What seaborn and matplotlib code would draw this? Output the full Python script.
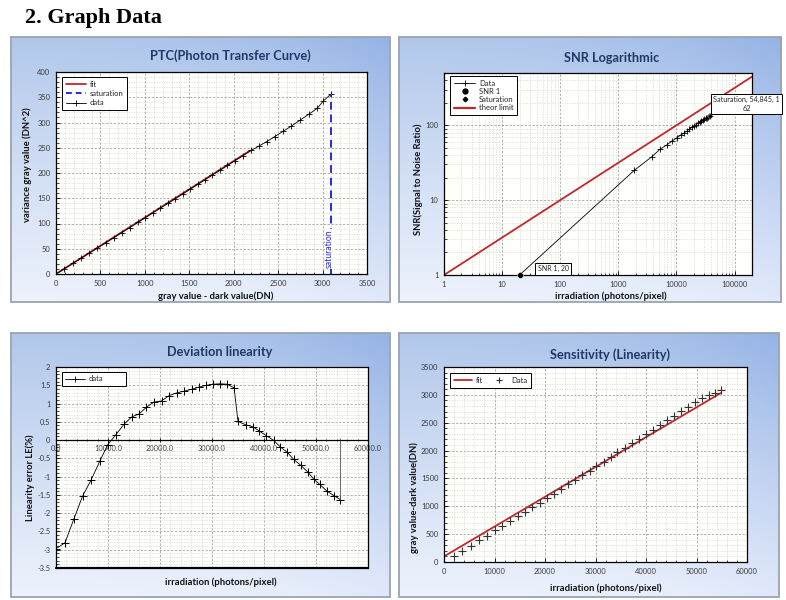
import numpy as np
import matplotlib
matplotlib.use("Agg")
import matplotlib.pyplot as plt
import seaborn as sns
from matplotlib.ticker import MultipleLocator, FixedLocator, FixedFormatter, LogLocator, NullFormatter
from matplotlib.patches import Rectangle
from matplotlib.lines import Line2D

# ---------------- data ----------------
# PTC (Photon Transfer Curve)
ptc_gray = [0, 90, 190, 280, 370, 460, 560, 650, 740, 830, 920, 1000, 1090, 1170, 1260, 1340,
            1430, 1510, 1600, 1680, 1760, 1850, 1930, 2010, 2100, 2200, 2290, 2370, 2460, 2560,
            2650, 2750, 2850, 2940, 3010, 3100]
ptc_var = [0, 10, 21, 31, 41, 51, 62, 72, 82, 92, 102, 111, 121, 130, 140, 149,
           159, 168, 178, 187, 196, 206, 215, 224, 234, 245, 254, 262, 272, 283,
           293, 305, 317, 328, 343, 357]
ptc_fit_x = [0, 2180]
ptc_fit_y = [0, 244]
ptc_xticks = [0, 500, 1000, 1500, 2000, 2500, 3000, 3500]
ptc_yticks = [0, 50, 100, 150, 200, 250, 300, 350, 400]

# SNR logarithmic
snr_irr = [20, 1880, 3770, 5250, 6900, 8500, 10200, 11800, 13500, 15200, 16800, 18500, 20200,
           21800, 23500, 25200, 26800, 28500, 30200, 31800, 33500, 35200, 36800, 38500]
snr_val = [1, 25, 38, 48, 55, 62, 68, 74, 79, 84, 89, 94, 98,
           102, 106, 110, 114, 117, 121, 124, 127, 130, 132, 134]
theor_x = [1, 200000]
theor_y = [1, 447]
snr_xticks = [1, 10, 100, 1000, 10000, 100000]
snr_yticks = [1, 10, 100]

# Deviation linearity
dev_irr = [0, 1730, 3460, 5120, 6720, 8450, 9925, 11525, 13060, 14535, 16000, 17400, 18800,
           20300, 21770, 23180, 24650, 26060, 27530, 28940, 30220, 31500, 32910, 34250, 35000,
           36500, 37900, 39060, 40470, 41880, 43160, 44440, 45720, 47070, 48470, 49560, 50710,
           52120, 53470, 54680]
dev_le = [-2.97, -2.81, -2.15, -1.53, -1.10, -0.57, -0.13, 0.15, 0.43, 0.63, 0.72, 0.90, 1.04,
          1.07, 1.22, 1.29, 1.34, 1.39, 1.45, 1.50, 1.53, 1.54, 1.53, 1.43, 0.51,
          0.42, 0.36, 0.25, 0.12, -0.01, -0.19, -0.33, -0.53, -0.69, -0.88, -1.07, -1.21,
          -1.40, -1.52, -1.63]
dev_xticks = [0, 10000, 20000, 30000, 40000, 50000, 60000]
dev_xlabels = ["0.0", "10000.0", "20000.0", "30000.0", "40000.0", "50000.0", "60000.0"]
dev_yticks = [2, 1.5, 1, 0.5, 0, -0.5, -1, -1.5, -2, -2.5, -3, -3.5]

# Sensitivity (linearity)
sens_irr = [1980, 3630, 5280, 6860, 8510, 10030, 11550, 13130, 14650, 16100, 17490, 18940,
            20400, 21780, 23230, 24550, 26000, 27390, 28840, 30160, 31620, 33000, 34320,
            35780, 37230, 38550, 39930, 41390, 42710, 44220, 45540, 47000, 48320, 49640,
            51090, 52410, 53730, 54790]
sens_dn = [102, 197, 293, 389, 473, 569, 652, 736, 820, 904, 987, 1065,
           1149, 1227, 1311, 1394, 1478, 1562, 1640, 1723, 1801, 1885, 1969,
           2053, 2130, 2214, 2298, 2376, 2466, 2543, 2627, 2711, 2789, 2867,
           2938, 3000, 3040, 3094]
sens_fit_x = [0, 54845]
sens_fit_y = [100, 3035]
sens_xticks = [0, 10000, 20000, 30000, 40000, 50000, 60000]
sens_yticks = [0, 500, 1000, 1500, 2000, 2500, 3000, 3500]

# ---------------- style ----------------
sns.set_theme(style="white")
plt.rcParams["font.family"] = ["Lato", "DejaVu Sans"]

W, H = 786, 600
fig = plt.figure(figsize=(7.86, 6.0), dpi=100)
fig.patch.set_facecolor("white")

RED = "#c0282d"
BLUE = "#2b2bd6"
TITLE_C = "#1f3868"
PLOT_BG = "#fffffb"


def rect(x0, y0, x1, y1):
    return [x0 / W, 1 - y1 / H, (x1 - x0) / W, (y1 - y0) / H]


# gradient for the panel frames
ny, nx = 120, 120
v = np.linspace(0, 1, ny)[:, None, None]
u = np.linspace(0, 1, nx)[None, :, None]
top = np.array([0.69, 0.78, 0.92])
bot = np.array([0.93, 0.95, 0.99])
base = top + (bot - top) * (v ** 0.9)
dark = (u ** 2.5) * (1 - 0.55 * v) * np.array([0.11, 0.08, 0.02])
grad = np.clip(base - dark, 0, 1)


def frame(x0, y0, x1, y1):
    bg = fig.add_axes(rect(x0, y0, x1, y1), zorder=0)
    bg.imshow(grad, aspect="auto", extent=[0, 1, 0, 1], interpolation="bilinear")
    bg.set_axis_off()
    bg.add_patch(Rectangle((0, 0), 1, 1, transform=bg.transAxes, fill=False,
                           ec="#9ba4ae", lw=1.3, clip_on=False))


def style(ax):
    ax.set_facecolor(PLOT_BG)
    for s in ax.spines.values():
        s.set_visible(True)
        s.set_color("black")
        s.set_linewidth(0.9)
    ax.tick_params(which="both", direction="in", bottom=True, left=True,
                   labelsize=5.4, labelcolor="#3a3a3a", color="black", pad=4)
    ax.tick_params(which="major", length=3, width=0.6)
    ax.tick_params(which="minor", length=1.8, width=0.5)
    ax.grid(which="major", color="#9c9c9c", ls=(0, (3, 2)), lw=0.55)
    ax.grid(which="minor", color="#d2d2d2", ls=(0, (2, 2)), lw=0.45)
    ax.set_axisbelow(True)


def legend(ax, handles, labels, anchor, **kw):
    opts = dict(loc="upper left", bbox_to_anchor=anchor, borderaxespad=0, fontsize=5.5,
                frameon=True, fancybox=False, framealpha=1, edgecolor="black",
                borderpad=0.5, labelspacing=0.3, handletextpad=0.5)
    opts.update(kw)
    lg = ax.legend(handles, labels, **opts)
    lg.get_frame().set_linewidth(0.7)
    return lg


lab_kw = dict(fontsize=6.8, fontweight="bold", color="#111111")
title_kw = dict(fontsize=9.2, fontweight="bold", color=TITLE_C, ha="center", va="center")

fig.text(25 / W, 1 - 23 / H, "2. Graph Data", family=["Liberation Serif", "DejaVu Serif"],
         fontweight="bold", fontsize=16, va="baseline", color="black")

# ---------------- Panel 1: PTC ----------------
frame(11, 37, 390, 302)
ax1 = fig.add_axes(rect(56, 72, 367, 274), zorder=2)
style(ax1)
sns.lineplot(x=ptc_fit_x, y=ptc_fit_y, ax=ax1, color=RED, lw=1.3, estimator=None, sort=False)
sat_x, sat_y = ptc_gray[-1], ptc_var[-1]
ax1.vlines(sat_x, 0, sat_y, colors=BLUE, linestyles=(0, (4, 2.5)), lw=1.4, zorder=3)
sns.lineplot(x=ptc_gray, y=ptc_var, ax=ax1, color="black", lw=0.6, marker="+",
             markersize=4.5, markeredgewidth=0.6, markeredgecolor="black",
             estimator=None, sort=False)
ax1.set_xlim(0, 3500)
ax1.set_ylim(0, 400)
ax1.xaxis.set_major_locator(FixedLocator(ptc_xticks))
ax1.yaxis.set_major_locator(FixedLocator(ptc_yticks))
ax1.xaxis.set_minor_locator(MultipleLocator(100))
ax1.yaxis.set_minor_locator(MultipleLocator(10))
ax1.text(sat_x - 20, 11, "saturation", rotation=90, color=BLUE, fontsize=6.2,
         ha="center", va="bottom", zorder=4,
         bbox=dict(boxstyle="square,pad=0.05", fc=PLOT_BG, ec="none"))
ax1.set_xlabel("gray value - dark value(DN)", **lab_kw)
ax1.set_ylabel("variance gray value (DN^2)", **lab_kw)
ax1.xaxis.set_label_coords(0.514, -0.085)
ax1.yaxis.set_label_coords(-0.077, 0.54)
legend(ax1,
       [Line2D([], [], color=RED, lw=1.3),
        Line2D([], [], color=BLUE, lw=1.4, ls=(0, (3, 2))),
        Line2D([], [], color="black", lw=0.6, marker="+", ms=4.5, mew=0.6)],
       ["fit", "saturation", "data"], (0.019, 0.975), handlelength=2.6)
fig.text(230 / W, 1 - 56 / H, "PTC(Photon Transfer Curve)", **title_kw)

# ---------------- Panel 2: SNR ----------------
frame(399, 37, 781, 302)
ax2 = fig.add_axes(rect(444, 73, 752, 275), zorder=2)
style(ax2)
ax2.set_xscale("log")
ax2.set_yscale("log")
sns.lineplot(x=theor_x, y=theor_y, ax=ax2, color=RED, lw=1.3, estimator=None, sort=False)
sns.lineplot(x=snr_irr, y=snr_val, ax=ax2, color="black", lw=0.6, marker="+",
             markersize=4.5, markeredgewidth=0.6, markeredgecolor="black",
             estimator=None, sort=False)
sns.scatterplot(x=snr_irr[:1], y=snr_val[:1], ax=ax2, color="black", s=18, marker="o",
                zorder=5, clip_on=False)
sns.scatterplot(x=snr_irr[-1:], y=snr_val[-1:], ax=ax2, color="black", s=8, marker="D",
                zorder=5)
ax2.set_xlim(1, 200000)
ax2.set_ylim(1, 500)
ax2.xaxis.set_major_locator(FixedLocator(snr_xticks))
ax2.xaxis.set_major_formatter(FixedFormatter([str(t) for t in snr_xticks]))
ax2.yaxis.set_major_locator(FixedLocator(snr_yticks))
ax2.yaxis.set_major_formatter(FixedFormatter([str(t) for t in snr_yticks]))
ax2.xaxis.set_minor_locator(LogLocator(base=10, subs=np.arange(2, 10)))
ax2.yaxis.set_minor_locator(LogLocator(base=10, subs=np.arange(2, 10)))
ax2.xaxis.set_minor_formatter(NullFormatter())
ax2.yaxis.set_minor_formatter(NullFormatter())
ax2.set_xlabel("irradiation (photons/pixel)", **lab_kw)
ax2.set_ylabel("SNR(Signal to Noise Ratio)", **lab_kw)
ax2.xaxis.set_label_coords(0.54, -0.083)
ax2.yaxis.set_label_coords(-0.068, 0.475)
box_kw = dict(boxstyle="square,pad=0.35", fc="white", ec="black", lw=0.7)
ax2.annotate(f"SNR 1, {snr_irr[0]}", xy=(snr_irr[0], snr_val[0]), xytext=(13, 4.5),
             textcoords="offset points", fontsize=5, ha="left", va="center",
             bbox=box_kw, annotation_clip=False, zorder=6)
ax2.annotate("Saturation, 54,845, 1\n62", xy=(snr_irr[-1], snr_val[-1]), xytext=(2, 3),
             textcoords="offset points", fontsize=5.2, ha="left", va="bottom",
             multialignment="center", bbox=box_kw, annotation_clip=False, zorder=6)
legend(ax2,
       [Line2D([], [], color="black", lw=0.6, marker="+", ms=4.5, mew=0.6),
        Line2D([], [], color="black", lw=0, marker="o", ms=3.5),
        Line2D([], [], color="black", lw=0, marker="D", ms=2.3),
        Line2D([], [], color=RED, lw=1.6)],
       ["Data", "SNR 1", "Saturation", "theor limit"], (0.0195, 0.985),
       handlelength=2.8, labelspacing=0.15)
fig.text(612 / W, 1 - 58 / H, "SNR Logarithmic", **title_kw)

# ---------------- Panel 3: Deviation linearity ----------------
frame(11, 333, 390, 597)
ax3 = fig.add_axes(rect(56, 367, 368, 568), zorder=2)
style(ax3)
ax3.spines["bottom"].set_position(("data", 0))
ax3.axhline(-3.5, color="black", lw=1.6, clip_on=False, zorder=4)
sns.lineplot(x=dev_irr, y=dev_le, ax=ax3, color="black", lw=0.6, marker="+",
             markersize=5.5, markeredgewidth=0.7, markeredgecolor="black",
             estimator=None, sort=False)
ax3.vlines(dev_irr[-1], dev_le[-1], 0.05, colors="#555555", lw=0.6)
ax3.set_xlim(0, 60000)
ax3.set_ylim(-3.5, 2)
ax3.xaxis.set_major_locator(FixedLocator(dev_xticks))
ax3.xaxis.set_major_formatter(FixedFormatter(dev_xlabels))
ax3.yaxis.set_major_locator(FixedLocator(dev_yticks))
ax3.yaxis.set_major_formatter(FixedFormatter([f"{t:g}" for t in dev_yticks]))
ax3.xaxis.set_minor_locator(MultipleLocator(2000))
ax3.yaxis.set_minor_locator(MultipleLocator(0.1))
ax3.tick_params(axis="x", which="both", direction="inout", pad=2)
ax3.set_xlabel("irradiation (photons/pixel)", **lab_kw)
ax3.set_ylabel("Linearity error LE(%)", **lab_kw)
ax3.xaxis.set_label_coords(0.529, -0.045)
ax3.yaxis.set_label_coords(-0.067, 0.448)
legend(ax3,
       [Line2D([], [], color="black", lw=0.6, marker="+", ms=4.5, mew=0.6)],
       ["data"], (0.019, 0.55, 0.205, 0.425), mode="expand", handlelength=2.6,
       borderpad=0.45)
fig.text(220 / W, 1 - 352 / H, "Deviation linearity", **title_kw)

# ---------------- Panel 4: Sensitivity ----------------
frame(399, 333, 779, 597)
ax4 = fig.add_axes(rect(444, 367, 747, 562), zorder=2)
style(ax4)
sns.lineplot(x=sens_fit_x, y=sens_fit_y, ax=ax4, color=RED, lw=1.3, estimator=None, sort=False)
sns.scatterplot(x=sens_irr, y=sens_dn, ax=ax4, color="#333333", marker="+", s=28,
                linewidth=0.8, zorder=4)
ax4.set_xlim(0, 60000)
ax4.set_ylim(0, 3500)
ax4.xaxis.set_major_locator(FixedLocator(sens_xticks))
ax4.xaxis.set_major_formatter(FixedFormatter([str(t) for t in sens_xticks]))
ax4.yaxis.set_major_locator(FixedLocator(sens_yticks))
ax4.yaxis.set_major_formatter(FixedFormatter([str(t) for t in sens_yticks]))
ax4.xaxis.set_minor_locator(MultipleLocator(2000))
ax4.yaxis.set_minor_locator(MultipleLocator(100))
ax4.set_xlabel("irradiation (photons/pixel)", **lab_kw)
ax4.set_ylabel("gray value-dark value(DN)", **lab_kw)
ax4.xaxis.set_label_coords(0.535, -0.11)
ax4.yaxis.set_label_coords(-0.083, 0.33)
legend(ax4,
       [Line2D([], [], color=RED, lw=1.3),
        Line2D([], [], color="#333333", lw=0, marker="+", ms=4.5, mew=0.8)],
       ["fit", "Data"], (0.02, 0.969), ncol=2, handlelength=2.4, columnspacing=0.8)
fig.text(610 / W, 1 - 355 / H, "Sensitivity (Linearity)", **title_kw)

fig.savefig("out.png", dpi=100)
